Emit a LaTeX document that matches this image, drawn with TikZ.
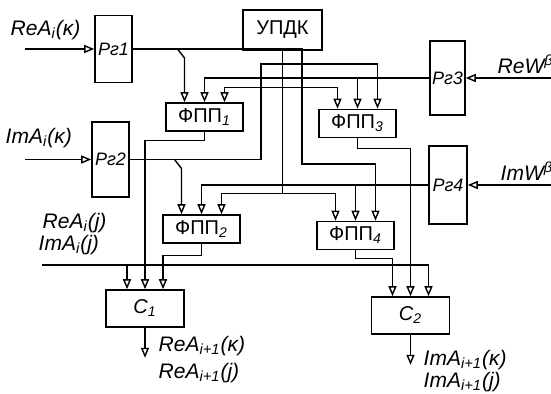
\documentclass[tikz,border=0pt]{standalone}
\usepackage{fontspec}
\setmainfont{Liberation Sans}
\usepackage{tikz}
\usetikzlibrary{positioning,calc,arrows.meta}

\newcommand{\sub}[1]{\textsubscript{#1}}

\begin{document}
\begin{tikzpicture}[x=0.5pt,y=-0.5pt, line width=0.7pt,
  arr/.style={-{Triangle[open,length=5pt,width=4pt]}},
  box/.style={draw, line width=0.8pt, inner sep=1pt, font=\fontsize{10}{11}\selectfont},
  reg/.style={box, font=\fontsize{9}{10}\selectfont\itshape},
  fpp/.style={box, minimum width=38.5pt, minimum height=14pt},
  sum/.style={box, minimum width=39pt, minimum height=18.5pt, font=\fontsize{10}{11}\selectfont\itshape},
  lbl/.style={font=\fontsize{10.5}{11}\selectfont\itshape, inner sep=0pt}]
\path[use as bounding box, fill=white] (0,0) rectangle (551,394);

%% Registers
\node[reg, minimum width=18.5pt, minimum height=33.5pt] (rg1) at (113.5,49) {Рг1};
\node[reg, minimum width=18.5pt, minimum height=37.5pt] (rg2) at (110.5,159.5) {Рг2};
\node[reg, minimum width=15.5pt, minimum height=37pt] (rg3) at (447.5,78) {Рг3};
\node[reg, minimum width=19pt, minimum height=39pt] (rg4) at (448,185) {Рг4};
%% Control unit
\node[box, minimum width=39.5pt, minimum height=20pt] (updk) at (282.5,30) {УПДК};
%% Converters
\node[fpp] (fpp1) at (204.5,117) {ФПП\sub{\textit{1}}};
\node[fpp] (fpp3) at (357.5,123.5) {ФПП\sub{\textit{3}}};
\node[fpp] (fpp2) at (201.5,229) {ФПП\sub{\textit{2}}};
\node[fpp] (fpp4) at (355.5,235.5) {ФПП\sub{\textit{4}}};
%% Adders
\node[sum] (c1) at (145,308.5) {C\sub{1}};
\node[sum] (c2) at (410.5,315.5) {C\sub{2}};

%% Input ports
\foreach \b in {fpp1,fpp2,fpp3,fpp4}{
  \coordinate (\b-1) at ($(\b.north)+(-20,0)$);
  \coordinate (\b-2) at ($(\b.north)+(0,0)$);
  \coordinate (\b-3) at ($(\b.north)+(20,0)$);
}
\foreach \b in {c1,c2}{
  \coordinate (\b-1) at ($(\b.north)+(-18,0)$);
  \coordinate (\b-2) at ($(\b.north)+(0,0)$);
  \coordinate (\b-3) at ($(\b.north)+(18,0)$);
}

%% Inputs and outputs
\coordinate (i1) at (25,49);
\coordinate (i2) at (25,159.5);
\coordinate (i3) at (551,78);
\coordinate (i4) at (551,185);
\coordinate (bus) at (42,265);
\coordinate (o1) at ($(c1.south)+(0,30)$);
\coordinate (o2) at ($(c2.south)+(0,30)$);
\draw[arr] (i1) -- (rg1);
\draw[arr] (i2) -- (rg2);
\draw[arr] (i3) -- (rg3);
\draw[arr] (i4) -- (rg4);
\draw[arr] (c1) -- (o1);
\draw[arr] (c2) -- (o2);

%% Data registers
\draw[arr] (rg1.east) -| (302,164) -| (fpp4-3);
\draw[arr] (rg1.east -| fpp1-1) ++(-7,0) -- ++(7,9) -- (fpp1-1);
\draw[arr] (rg2.east) -| (261,64) -| (fpp3-3);
\draw[arr] (rg2.east -| fpp2-1) ++(-7,0) -- ++(7,9) -- (fpp2-1);
%% Coefficient registers
\draw[arr] (rg3.west) -| (fpp1-2);
\draw[arr] (rg3.west -| fpp3-2) -- (fpp3-2);
\draw[arr] (rg4.west) -| (fpp2-2);
\draw[arr] (rg4.west -| fpp4-2) -- (fpp4-2);
%% Control lines
\coordinate (k1) at ($(updk.south)+(0,37)$);
\coordinate (k2) at ($(updk.south)+(0,143)$);
\draw (updk) -- (k2);
\draw[arr] (k1) -| (fpp1-3);
\draw[arr] (k1) -| (fpp3-1);
\draw[arr] (k2) -| (fpp2-3);
\draw[arr] (k2) -| (fpp4-1);
%% To adders
\draw[arr] (fpp1.south) -- ++(0,9) -| (c1-2);
\draw[arr] (fpp2.south) -- ++(0,12) -| (c1-3);
\draw[arr] (fpp3.south) -- ++(0,10) -| (c2-2);
\draw[arr] (fpp4.south) -- ++(0,8) -| (c2-1);
\draw[arr] (bus) -| (c2-3);
\draw[arr] (bus -| c1-1) -- (c1-1);

%% Labels
\node[lbl, anchor=west] (lrek) at (10,30) {ReA\sub{i}(κ)};
\node[lbl, anchor=west] (limk) at (5,138) {ImA\sub{i}(κ)};
\node[lbl, anchor=west] (lrew) at (497,64) {ReW\textsuperscript{β}};
\node[lbl, anchor=west] (limw) at (500,171) {ImW\textsuperscript{β}};
\node[lbl, anchor=west] (lrej) at (42,223) {ReA\sub{i}(j)};
\node[lbl, anchor=west] (limj) at (38,245) {ImA\sub{i}(j)};
\node[lbl, anchor=west] (lrek1) at (158,346) {ReA\sub{i+1}(κ)};
\node[lbl, anchor=west] (lrej1) at (158,373) {ReA\sub{i+1}(j)};
\node[lbl, anchor=west] (limk1) at (423,360) {ImA\sub{i+1}(κ)};
\node[lbl, anchor=west] (limj1) at (423,382) {ImA\sub{i+1}(j)};
\end{tikzpicture}
\end{document}
